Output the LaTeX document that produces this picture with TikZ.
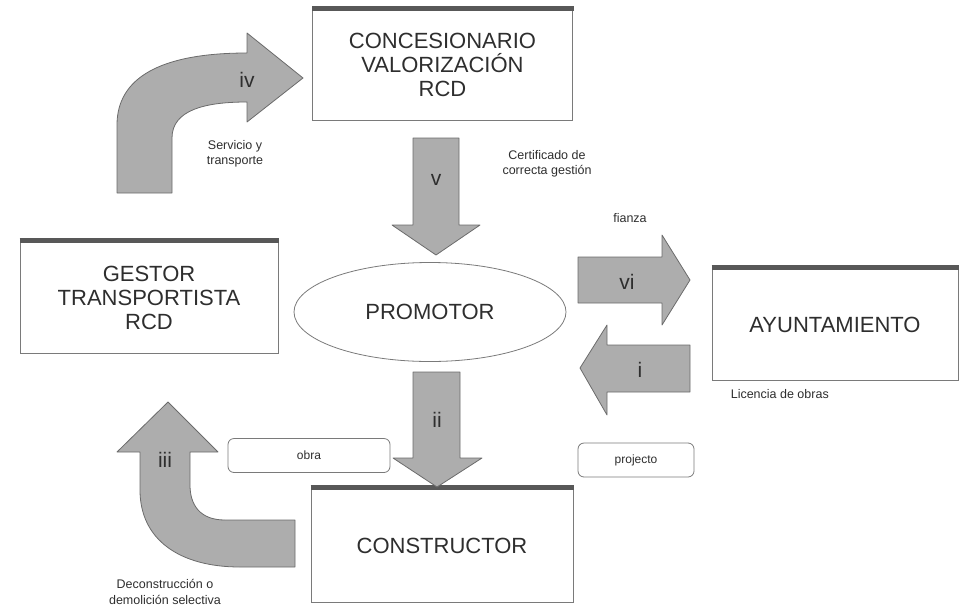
\documentclass[tikz,border=0pt]{standalone}
\usepackage{fontspec}
\setmainfont{Liberation Sans}
\usetikzlibrary{positioning,shapes.geometric}
\definecolor{ArrowGray}{HTML}{ADADAD}
\definecolor{ArrowEdge}{HTML}{6B6B6B}
\definecolor{BoxEdge}{HTML}{7A7A7A}
\definecolor{BarGray}{HTML}{585858}
\definecolor{InkGray}{HTML}{2E2E2E}

\begin{document}
\begin{tikzpicture}[x=1pt,y=-1pt,
  actor/.style={draw=BoxEdge,fill=white,text=InkGray,line width=0.8pt,align=center,font=\fontsize{22}{24}\selectfont,minimum width=260pt,minimum height=111pt,inner sep=0pt},
  tag/.style={draw=BoxEdge,rounded corners=6pt,fill=white,text=InkGray,line width=0.8pt,font=\fontsize{12}{14}\selectfont,minimum height=34pt,inner sep=0pt},
  note/.style={align=center,text=InkGray,font=\fontsize{12.5}{15.5}\selectfont,inner sep=0pt},
  num/.style={text=InkGray,font=\fontsize{21}{24}\selectfont,inner sep=0pt},
  blockarrow/.style={fill=ArrowGray,draw=ArrowEdge,line width=0.8pt,line join=round}]
  \useasboundingbox (0,0) rectangle (960,608);

  \node (conc) [actor] at (442.5,65) {CONCESIONARIO\\VALORIZACIÓN\\RCD};
  \node (gestor) [actor,minimum width=258pt] at (149,297.5) {GESTOR\\TRANSPORTISTA\\RCD};
  \node (ayto) [actor,minimum width=246pt] at (835,324.5) {AYUNTAMIENTO};
  \node (constr) [actor,minimum width=262pt,minimum height=113pt] at (442,545.5) {CONSTRUCTOR};
  \node (prom) [draw=BoxEdge,text=InkGray,line width=0.8pt,ellipse,minimum width=272pt,minimum height=99pt,font=\fontsize{22}{24}\selectfont] at (430,312) {PROMOTOR};
  \foreach \b in {conc,gestor,ayto,constr}
    \draw[BarGray,line width=5pt] ([yshift=1pt]\b.north west) -- ([yshift=1pt,xshift=1pt]\b.north east);

  \node (obra) [tag,minimum width=162pt] at (309,455.5) {obra};
  \node (proj) [tag,minimum width=116pt] at (636,460) {projecto};

  % flechas de bloque
  \draw[blockarrow] (413,138) -- (459,138) -- (459,225) -- (480,225) -- (436,255) -- (392,225) -- (413,225) -- cycle;
  \draw[blockarrow] (413,372) -- (460,372) -- (460,458) -- (482,458) -- (437,487) -- (393,458) -- (413,458) -- cycle;
  \draw[blockarrow] (578,257) -- (662,257) -- (662,235) -- (690,280) -- (662,325) -- (662,303) -- (578,303) -- cycle;
  \draw[blockarrow] (690,345) -- (607,345) -- (607,325) -- (580,368) -- (607,415) -- (607,392) -- (690,392) -- cycle;
  \draw[blockarrow] (117,193) -- (117,125) .. controls (117,78) and (160,53) .. (247,53) -- (247,33) -- (303,78)
    -- (247,122) -- (247,102) .. controls (205,102) and (172,110) .. (172,138) -- (172,193) -- cycle;
  \draw[blockarrow] (140,452) -- (140,490) .. controls (140,540) and (180,567) .. (240,567) -- (295,567) -- (295,520)
    -- (225,520) .. controls (200,520) and (190,505) .. (190,485) -- (190,452) -- (218,452) -- (168,402) -- (117,452) -- cycle;

  \node (ni) [num] at (640,370) {i};
  \node (nii) [num] at (437,420) {ii};
  \node (niii) [num] at (165,460) {iii};
  \node (niv) [num] at (247,80) {iv};
  \node (nv) [num] at (436,180) {v};
  \node (nvi) [num] at (627,282) {vi};

  \node (serv) [note] at (235,154) {Servicio y\\transporte};
  \node (cert) [note] at (547,164) {Certificado de\\correcta gestión};
  \node (fianza) [note] at (630,218) {fianza};
  \node (lic) [note,below right=9pt and 19pt of ayto.south west] {Licencia de obras};
  \node (decon) [note] at (165,592) {Deconstrucción o\\demolición selectiva};
\end{tikzpicture}
\end{document}
